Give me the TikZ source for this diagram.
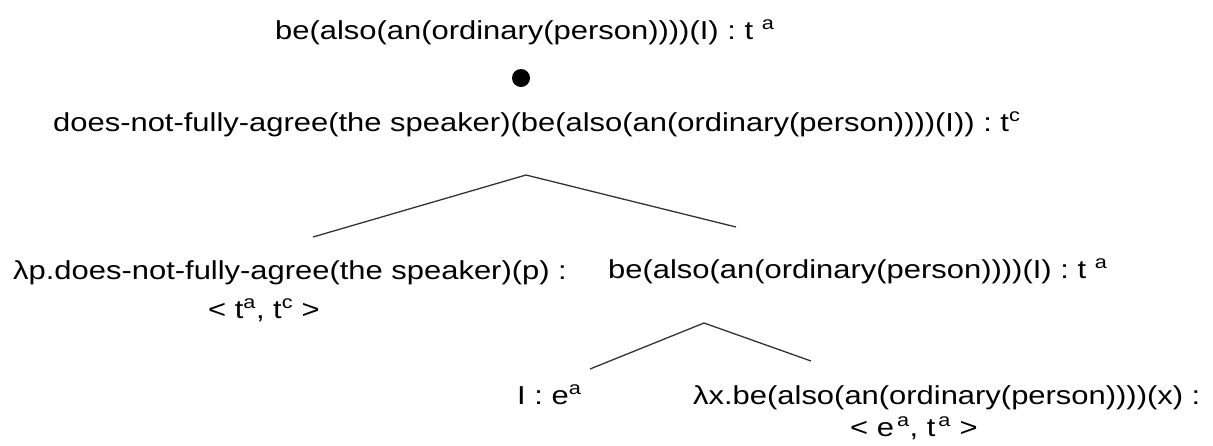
\documentclass[tikz,border=0pt]{standalone}
\usepackage{fontspec}
\setmainfont[FakeStretch=1.19]{Liberation Sans}
\begin{document}
\begin{tikzpicture}[x=1pt,y=-1pt,
  lbl/.style={anchor=base west, inner sep=0pt, font=\fontsize{26}{30}\selectfont},
  branch/.style={line width=1.3pt, draw=black!80}]
\useasboundingbox (0,0) rectangle (1213,445);
\node[lbl] (top) at (275,39) {be(also(an(ordinary(person))))(I) : t \textsuperscript{a}};
\node[circle, fill=black, inner sep=0pt, minimum size=18pt] (dot) at (521,78) {};
\node[lbl] (conc) at (53,131) {does-not-fully-agree(the speaker)(be(also(an(ordinary(person))))(I)) : t\textsuperscript{c}};
\coordinate (a1) at (526,175);
\coordinate (l1) at (313,237);
\coordinate (r1) at (736,227);
\draw[branch] (l1) -- (a1) -- (r1);
\node[lbl] (lp1) at (13,279) {λp.does-not-fully-agree(the speaker)(p) :};
\node[lbl] (lp2) at (208,318) {< t\textsuperscript{a}, t\textsuperscript{c} >};
\node[lbl] (mid) at (608,278) {be(also(an(ordinary(person))))(I) : t \textsuperscript{a}};
\coordinate (a2) at (704,323);
\coordinate (l2) at (590,369);
\coordinate (r2) at (811,361);
\draw[branch] (l2) -- (a2) -- (r2);
\node[lbl] (ie) at (517,404) {I : e\textsuperscript{a}};
\node[lbl] (lx1) at (693,404) {λx.be(also(an(ordinary(person))))(x) :};
\node[lbl] (lx2) at (850,436) {< e\textsuperscript{\,a}, t\textsuperscript{\,a} >};
\end{tikzpicture}
\end{document}
